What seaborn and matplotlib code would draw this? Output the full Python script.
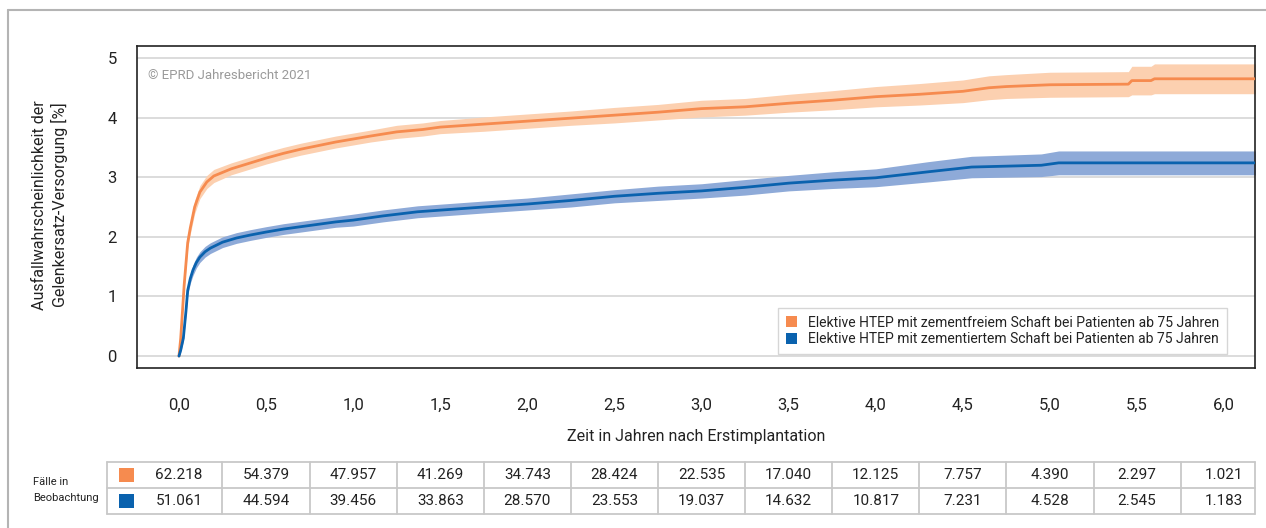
import numpy as np
import pandas as pd
import matplotlib.pyplot as plt
import seaborn as sns
from matplotlib.patches import Patch
from matplotlib.lines import Line2D

# Kaplan-Meier style curves (years, failure %)
t_free = [0, 0.01, 0.03, 0.05, 0.065, 0.09, 0.12, 0.16, 0.2, 0.3, 0.4, 0.5, 0.6, 0.7, 0.8, 0.9,
          1.0, 1.1, 1.25, 1.4, 1.5, 1.75, 2.0, 2.25, 2.5, 2.75, 3.0, 3.25, 3.5, 3.75, 4.0, 4.25,
          4.5, 4.65, 4.75, 5.0, 5.45, 5.47, 5.58, 5.6, 6.2]
y_free = [0, 0.3, 1.2, 1.9, 2.15, 2.5, 2.75, 2.92, 3.02, 3.14, 3.23, 3.32, 3.4, 3.47, 3.53, 3.59,
          3.64, 3.69, 3.76, 3.8, 3.84, 3.89, 3.94, 3.99, 4.04, 4.09, 4.15, 4.18, 4.24, 4.29, 4.35, 4.39,
          4.44, 4.5, 4.52, 4.55, 4.56, 4.62, 4.62, 4.65, 4.65]
ci_free = [0, 0.05, 0.08, 0.1, 0.1, 0.11, 0.11, 0.11, 0.11, 0.1, 0.1, 0.1, 0.1, 0.1, 0.1, 0.1,
           0.1, 0.1, 0.11, 0.11, 0.11, 0.12, 0.12, 0.12, 0.13, 0.13, 0.14, 0.14, 0.15, 0.16, 0.17, 0.18,
           0.19, 0.2, 0.2, 0.21, 0.21, 0.24, 0.24, 0.25, 0.25]

t_cem = [0, 0.01, 0.025, 0.04, 0.05, 0.065, 0.08, 0.1, 0.12, 0.15, 0.18, 0.25, 0.33, 0.41, 0.5,
         0.6, 0.7, 0.8, 0.9, 1.0, 1.17, 1.37, 1.56, 1.75, 2.0, 2.25, 2.5, 2.75, 3.0, 3.25, 3.5,
         3.75, 4.0, 4.15, 4.3, 4.55, 4.95, 5.05, 6.2]
y_cem = [0, 0.1, 0.3, 0.75, 1.1, 1.3, 1.44, 1.57, 1.66, 1.75, 1.81, 1.91, 1.98, 2.03, 2.08,
         2.13, 2.17, 2.21, 2.25, 2.28, 2.35, 2.42, 2.46, 2.5, 2.55, 2.61, 2.68, 2.73, 2.77, 2.83, 2.9,
         2.95, 2.99, 3.04, 3.09, 3.17, 3.2, 3.24, 3.24]
ci_cem = [0, 0.03, 0.05, 0.07, 0.08, 0.08, 0.09, 0.09, 0.09, 0.09, 0.09, 0.09, 0.09, 0.09, 0.09,
          0.09, 0.09, 0.09, 0.09, 0.1, 0.1, 0.1, 0.1, 0.1, 0.1, 0.11, 0.11, 0.12, 0.12, 0.13, 0.13,
          0.14, 0.15, 0.16, 0.17, 0.18, 0.19, 0.2, 0.2]

labels = ["Elektive HTEP mit zementfreiem Schaft bei Patienten ab 75 Jahren",
          "Elektive HTEP mit zementiertem Schaft bei Patienten ab 75 Jahren"]
line_colors = ["#f68b4f", "#0a62ae"]
band_colors = ["#fcd0b0", "#8eaad8"]

x_ticks = [0.0, 0.5, 1.0, 1.5, 2.0, 2.5, 3.0, 3.5, 4.0, 4.5, 5.0, 5.5, 6.0]
x_tick_labels = ["0,0", "0,5", "1,0", "1,5", "2,0", "2,5", "3,0", "3,5", "4,0", "4,5", "5,0", "5,5", "6,0"]
y_ticks = [0, 1, 2, 3, 4, 5]

at_risk_free = ["62.218", "54.379", "47.957", "41.269", "34.743", "28.424", "22.535",
                "17.040", "12.125", "7.757", "4.390", "2.297", "1.021"]
at_risk_cem = ["51.061", "44.594", "39.456", "33.863", "28.570", "23.553", "19.037",
               "14.632", "10.817", "7.231", "4.528", "2.545", "1.183"]

sns.set_style("white")
plt.rcParams['font.family'] = ['Roboto', 'DejaVu Sans']

df = pd.concat([
    pd.DataFrame({"t": t_free, "y": y_free, "ci": ci_free, "group": labels[0]}),
    pd.DataFrame({"t": t_cem, "y": y_cem, "ci": ci_cem, "group": labels[1]}),
])

W, H = 1266, 528
fig = plt.figure(figsize=(W / 100, H / 100), dpi=100)
ax = fig.add_axes([137 / W, 160 / H, 1118 / W, 322 / H])

for lab, bc in zip(labels, band_colors):
    d = df[df["group"] == lab]
    ax.fill_between(d["t"], d["y"] - d["ci"], d["y"] + d["ci"], color=bc, lw=0, zorder=2)

sns.lineplot(data=df, x="t", y="y", hue="group", palette=line_colors, estimator=None,
             sort=False, linewidth=2.0, legend=False, ax=ax, zorder=3)

ax.set_xlim(-0.241, 6.177)
ax.set_ylim(-0.2, 5.2)
ax.set_xticks(x_ticks)
ax.set_xticklabels(x_tick_labels)
ax.set_yticks(y_ticks)
ax.set_xlabel("")
ax.set_ylabel("")
ax.yaxis.grid(True, color="#d2d2d2", lw=1.1)
ax.xaxis.grid(False)
for s in ax.spines.values():
    s.set_color("#222222")
    s.set_linewidth(1.2)
ax.tick_params(axis="both", direction="out", length=11.5, width=1.2, color="#333333",
               labelsize=12, labelcolor="#222222")
ax.tick_params(axis="x", pad=10)
ax.tick_params(axis="y", pad=3)

ax.text(0.01, 0.907, "© EPRD Jahresbericht 2021", transform=ax.transAxes, fontsize=9.5,
        color="#9a9a9a", va="center", ha="left")

handles = [Patch(facecolor=c, edgecolor="none") for c in line_colors]
leg = ax.legend(handles, labels, loc="lower right", bbox_to_anchor=(0.981, 0.022),
                fontsize=10, frameon=True, fancybox=False, handlelength=0.8, handleheight=0.8,
                handletextpad=0.8, borderpad=0.55, labelspacing=0.2)
leg.get_frame().set_edgecolor("#cccccc")
leg.get_frame().set_linewidth(1.0)
for t in leg.get_texts():
    t.set_color("#222222")

fig.text(50 / W, 1 - 205 / H, "Ausfallwahrscheinlichkeit der\nGelenkersatz-Versorgung [%]",
         rotation=90, ha="center", va="center", fontsize=11.5, color="#222222", linespacing=1.25)
fig.text(696 / W, 1 - 437 / H, "Zeit in Jahren nach Erstimplantation", ha="center", va="center",
         fontsize=11.5, color="#222222")

# number-at-risk table
tab = fig.add_axes([107 / W, 14 / H, 1148 / W, 52 / H])
tab.set_xlim(-0.413, 6.177)
tab.set_ylim(0, 2)
tab.axis("off")
grid_kw = dict(color="#c8c8c8", lw=1.3, clip_on=False)
for yy in [0, 1, 2]:
    tab.plot([-0.413, 6.177], [yy, yy], **grid_kw)
for xx in [-0.413] + [v + 0.25 for v in x_ticks[:-1]] + [6.177]:
    tab.plot([xx, xx], [0, 2], **grid_kw)
tab.scatter([-0.30, -0.30], [1.5, 0.5], marker="s", s=115, c=line_colors, linewidths=0)
for xx, a, b in zip(x_ticks, at_risk_free, at_risk_cem):
    tab.text(xx, 1.5, a, ha="center", va="center", fontsize=11, color="#222222")
    tab.text(xx, 0.5, b, ha="center", va="center", fontsize=11, color="#222222")

fig.text(33 / W, 1 - 482 / H, "Fälle in", ha="left", va="center", fontsize=8, color="#222222")
fig.text(33 / W, 1 - 498 / H, "Beobachtung", ha="left", va="center", fontsize=8, color="#222222")

# outer frame (left and top edges)
fig.add_artist(Line2D([8 / W, 8 / W], [0, 1 - 10 / H], color="#b4b4b4", lw=1.5))
fig.add_artist(Line2D([8 / W, 1], [1 - 10 / H, 1 - 10 / H], color="#b4b4b4", lw=1.5))

fig.savefig("out.png", dpi=100)
